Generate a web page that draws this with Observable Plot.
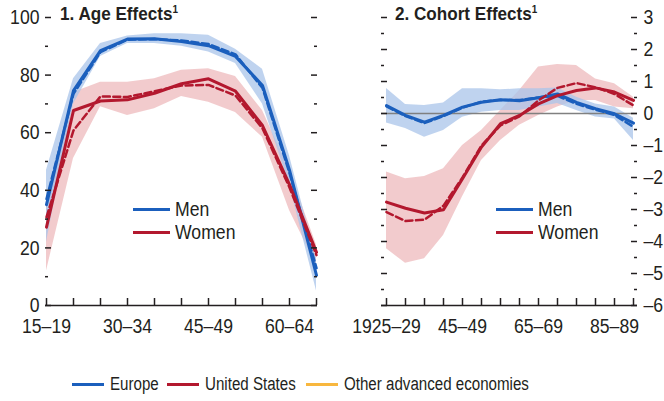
<!DOCTYPE html>
<html>
<head>
<meta charset="utf-8">
<script src="https://cdn.jsdelivr.net/npm/d3@7"></script>
<script src="https://cdn.jsdelivr.net/npm/@observablehq/plot@0.6"></script>
<style>
  html, body { margin: 0; padding: 0; background: #fff; }
  #chart { position: relative; width: 664px; height: 401px; overflow: hidden;
    font-family: "Liberation Sans", Arial, sans-serif; color: #231f20; }
  .panel { position: absolute; top: 0; }
  .panel svg { overflow: visible; font-family: inherit; }
  .nar { display: inline-block; transform: scaleX(0.84); transform-origin: 0 50%; white-space: nowrap; }
  .title { position: absolute; top: 3px; font-weight: bold; font-size: 19px; white-space: nowrap; }
  .title .nar { transform: scaleX(0.9); }
  .title sup { font-size: 11px; vertical-align: 0; position: relative; top: -7px; }
  .ileg { position: absolute; font-size: 21px; display: flex; align-items: center; white-space: nowrap; }
  .ileg i { display: inline-block; width: 37px; height: 0; border-top: 3px solid; margin-right: 5px; }
  .bleg { position: absolute; top: 374px; font-size: 18px; display: flex; align-items: center; white-space: nowrap; }
  .bleg i { display: inline-block; width: 32px; height: 0; border-top: 3px solid; margin-right: 6px; }
</style>
</head>
<body>
<div id="chart">
  <div class="panel" id="left" style="left:0px"></div>
  <div class="panel" id="right" style="left:340px"></div>
  <div class="title" style="left:60px"><span class="nar">1. Age Effects<sup>1</sup></span></div>
  <div class="title" style="left:395px"><span class="nar">2. Cohort Effects<sup>1</sup></span></div>
  <div class="ileg" style="left:133px;top:197px"><i style="border-color:#1b5fbd"></i><span class="nar">Men</span></div>
  <div class="ileg" style="left:133px;top:220px"><i style="border-color:#b3182e"></i><span class="nar">Women</span></div>
  <div class="ileg" style="left:496px;top:197px"><i style="border-color:#1b5fbd"></i><span class="nar">Men</span></div>
  <div class="ileg" style="left:496px;top:220px"><i style="border-color:#b3182e"></i><span class="nar">Women</span></div>
  <div class="bleg" style="left:72px"><i style="border-color:#1b5fbd"></i><span class="nar">Europe</span></div>
  <div class="bleg" style="left:167px"><i style="border-color:#b3182e"></i><span class="nar">United States</span></div>
  <div class="bleg" style="left:306px"><i style="border-color:#f8b73e"></i><span class="nar">Other advanced economies</span></div>
</div>
<script>
// ---------- Data ----------
const ageGroups = ["15–19","20–24","25–29","30–34","35–39","40–44","45–49","50–54","55–59","60–64","65–69"];
const ageLabels = ["15–19","30–34","45–49","60–64"];
const ageMenSolid   = [35, 74.6, 88.5, 92.5, 92.6, 91.7, 90.2, 86.5, 76.4, 47, 10.5];
const ageMenDashed  = [37, 73.5, 88, 92.3, 92.5, 92, 90.8, 87.2, 75.5, 46, 13];
const ageMenLow     = [22, 70, 86.5, 91, 91, 90, 88, 84, 70, 42, 5];
const ageMenHigh    = [47, 78.7, 91, 93.6, 94.4, 94.4, 93.8, 89, 82, 52, 16];
const ageWomenSolid  = [27.2, 67.7, 71, 71.4, 73.7, 77, 78.7, 74.4, 62.5, 42, 18.5];
const ageWomenDashed = [30.7, 60.8, 72.6, 72.4, 74.4, 76.4, 76.6, 72.9, 61.5, 41, 17.5];
const ageWomenLow    = [12, 51, 69, 66, 68.3, 72.6, 70.6, 67, 58.4, 33, 14];
const ageWomenHigh   = [35, 74, 77.5, 77.5, 78.7, 81.7, 82.2, 79.5, 67.7, 47, 21];

const cohorts = ["1925–29","1930–34","1935–39","1940–44","1945–49","1950–54","1955–59","1960–64","1965–69","1970–74","1975–79","1980–84","1985–89","1990–94"];
const cohortLabels = ["1925–29","1945–49","1965–69","1985–89"];
const cohortLabelText = {"1925–29": "1925–29", "1945–49": "45–49", "1965–69": "65–69", "1985–89": "85–89"};
const cohMenSolid   = [0.25, -0.06, -0.27, -0.06, 0.2, 0.35, 0.43, 0.4, 0.49, 0.61, 0.35, 0.15, -0.01, -0.3];
const cohMenDashed  = [0.22, -0.08, -0.3, -0.08, 0.18, 0.37, 0.42, 0.42, 0.5, 0.55, 0.3, 0.12, -0.05, -0.42];
const cohMenLow     = [-0.3, -0.47, -0.74, -0.53, -0.12, 0.04, 0.09, 0.09, 0.2, 0.31, 0.09, -0.11, -0.17, -0.84];
const cohMenHigh    = [0.78, 0.28, 0.25, 0.33, 0.77, 0.77, 0.74, 0.77, 0.77, 0.8, 0.51, 0.3, 0.2, -0.15];
const cohWomenSolid  = [-2.77, -2.96, -3.11, -3.01, -2.04, -1.05, -0.32, -0.06, 0.3, 0.56, 0.72, 0.8, 0.67, 0.41];
const cohWomenDashed = [-3.08, -3.36, -3.32, -2.88, -2.0, -1.0, -0.37, -0.09, 0.41, 0.8, 0.95, 0.82, 0.61, 0.25];
const cohWomenLow    = [-4.23, -4.68, -4.54, -3.81, -2.6, -1.47, -0.84, -0.37, -0.06, 0.2, 0.41, 0.41, 0.2, 0.15];
const cohWomenHigh   = [-1.83, -2.04, -1.97, -1.73, -1.0, -0.53, 0.09, 0.72, 1.45, 1.53, 1.5, 1.08, 0.93, 0.51];

const ageMajor = [0, 20, 40, 60, 80, 100];
const ageMinor = [10, 30, 50, 70, 90];
const cohMajor = [-6, -5, -4, -3, -2, -1, 0, 1, 2, 3];
const cohMinor = [-5.5, -4.5, -3.5, -2.5, -1.5, -0.5, 0.5, 1.5, 2.5];

// ---------- Styling ----------
const BLUE = "#1b5fbd", RED = "#b3182e";
const BLUE_BAND = "#a9c4ea", RED_BAND = "#eeb9bc";
const INK = "#231f20";
const NARROW = 0.84;

function rows(cats, solid, dashed, low, high) {
  return cats.map((c, i) => ({cat: c, solid: solid[i], dashed: dashed[i], low: low[i], high: high[i]}));
}
const fmtNeg = d => d < 0 ? "–" + Math.abs(d) : String(d);

// emulate a condensed face by squeezing each text horizontally about its anchor
function narrowTexts(svg) {
  svg.querySelectorAll("text").forEach(t => {
    const tr = t.getAttribute("transform") || "";
    t.setAttribute("transform", `${tr} scale(${NARROW},1)`);
  });
  return svg;
}

function panel({cats, men, women, yDomain, major, minor, width, marginLeft, marginRight, labels, labelFmt, axisSide, zeroLine}) {
  const height = 345, marginTop = 17, marginBottom = 40;
  const innerW = width - marginLeft - marginRight;
  const innerH = height - marginTop - marginBottom;
  const marks = [
    Plot.areaY(women, {x: "cat", y1: "low", y2: "high", fill: RED_BAND, fillOpacity: 0.75}),
    Plot.areaY(men, {x: "cat", y1: "low", y2: "high", fill: BLUE_BAND, fillOpacity: 0.75}),
  ];
  if (zeroLine) marks.push(Plot.ruleY([0], {stroke: "#808080", strokeWidth: 1.5}));
  marks.push(
    Plot.lineY(men, {x: "cat", y: "dashed", stroke: BLUE, strokeWidth: 2.5, strokeDasharray: "7,3.5"}),
    Plot.lineY(men, {x: "cat", y: "solid", stroke: BLUE, strokeWidth: 3}),
    Plot.lineY(women, {x: "cat", y: "dashed", stroke: RED, strokeWidth: 2.5, strokeDasharray: "7,3.5"}),
    Plot.lineY(women, {x: "cat", y: "solid", stroke: RED, strokeWidth: 3}),
    // y ticks on both sides (inward)
    Plot.ruleY(major, {insetRight: innerW - 6, stroke: INK, strokeWidth: 1.5}),
    Plot.ruleY(minor, {insetRight: innerW - 3, stroke: INK, strokeWidth: 1.5}),
    Plot.ruleY(major, {insetLeft: innerW - 6, stroke: INK, strokeWidth: 1.5}),
    Plot.ruleY(minor, {insetLeft: innerW - 3, stroke: INK, strokeWidth: 1.5}),
    // baseline + category ticks
    Plot.ruleY([yDomain[0]], {stroke: INK, strokeWidth: 1.5}),
    Plot.ruleX(cats, {x: d => d, insetTop: innerH - 7, stroke: INK, strokeWidth: 1.5}),
    Plot.axisX({ticks: labels, tickSize: 0, tickPadding: 13, fontSize: 21, tickFormat: labelFmt, label: null, fill: INK}),
    Plot.axisY({anchor: axisSide, ticks: major, tickSize: 0, tickPadding: 6, fontSize: 21, tickFormat: fmtNeg, label: null, fill: INK})
  );
  return narrowTexts(Plot.plot({
    width, height, marginTop, marginBottom, marginLeft, marginRight,
    style: {fontFamily: "inherit", background: "transparent", overflow: "visible"},
    x: {type: "point", domain: cats, padding: 0},
    y: {domain: yDomain},
    marks
  }));
}

document.getElementById("left").append(panel({
  cats: ageGroups,
  men: rows(ageGroups, ageMenSolid, ageMenDashed, ageMenLow, ageMenHigh),
  women: rows(ageGroups, ageWomenSolid, ageWomenDashed, ageWomenLow, ageWomenHigh),
  yDomain: [0, 100], major: ageMajor, minor: ageMinor,
  width: 340, marginLeft: 45, marginRight: 23,
  labels: ageLabels, labelFmt: d => d, axisSide: "left", zeroLine: false
}));

document.getElementById("right").append(panel({
  cats: cohorts,
  men: rows(cohorts, cohMenSolid, cohMenDashed, cohMenLow, cohMenHigh),
  women: rows(cohorts, cohWomenSolid, cohWomenDashed, cohWomenLow, cohWomenHigh),
  yDomain: [-6, 3], major: cohMajor, minor: cohMinor,
  width: 324, marginLeft: 41, marginRight: 27,
  labels: cohortLabels, labelFmt: d => cohortLabelText[d], axisSide: "right", zeroLine: true
}));
</script>
</body>
</html>
